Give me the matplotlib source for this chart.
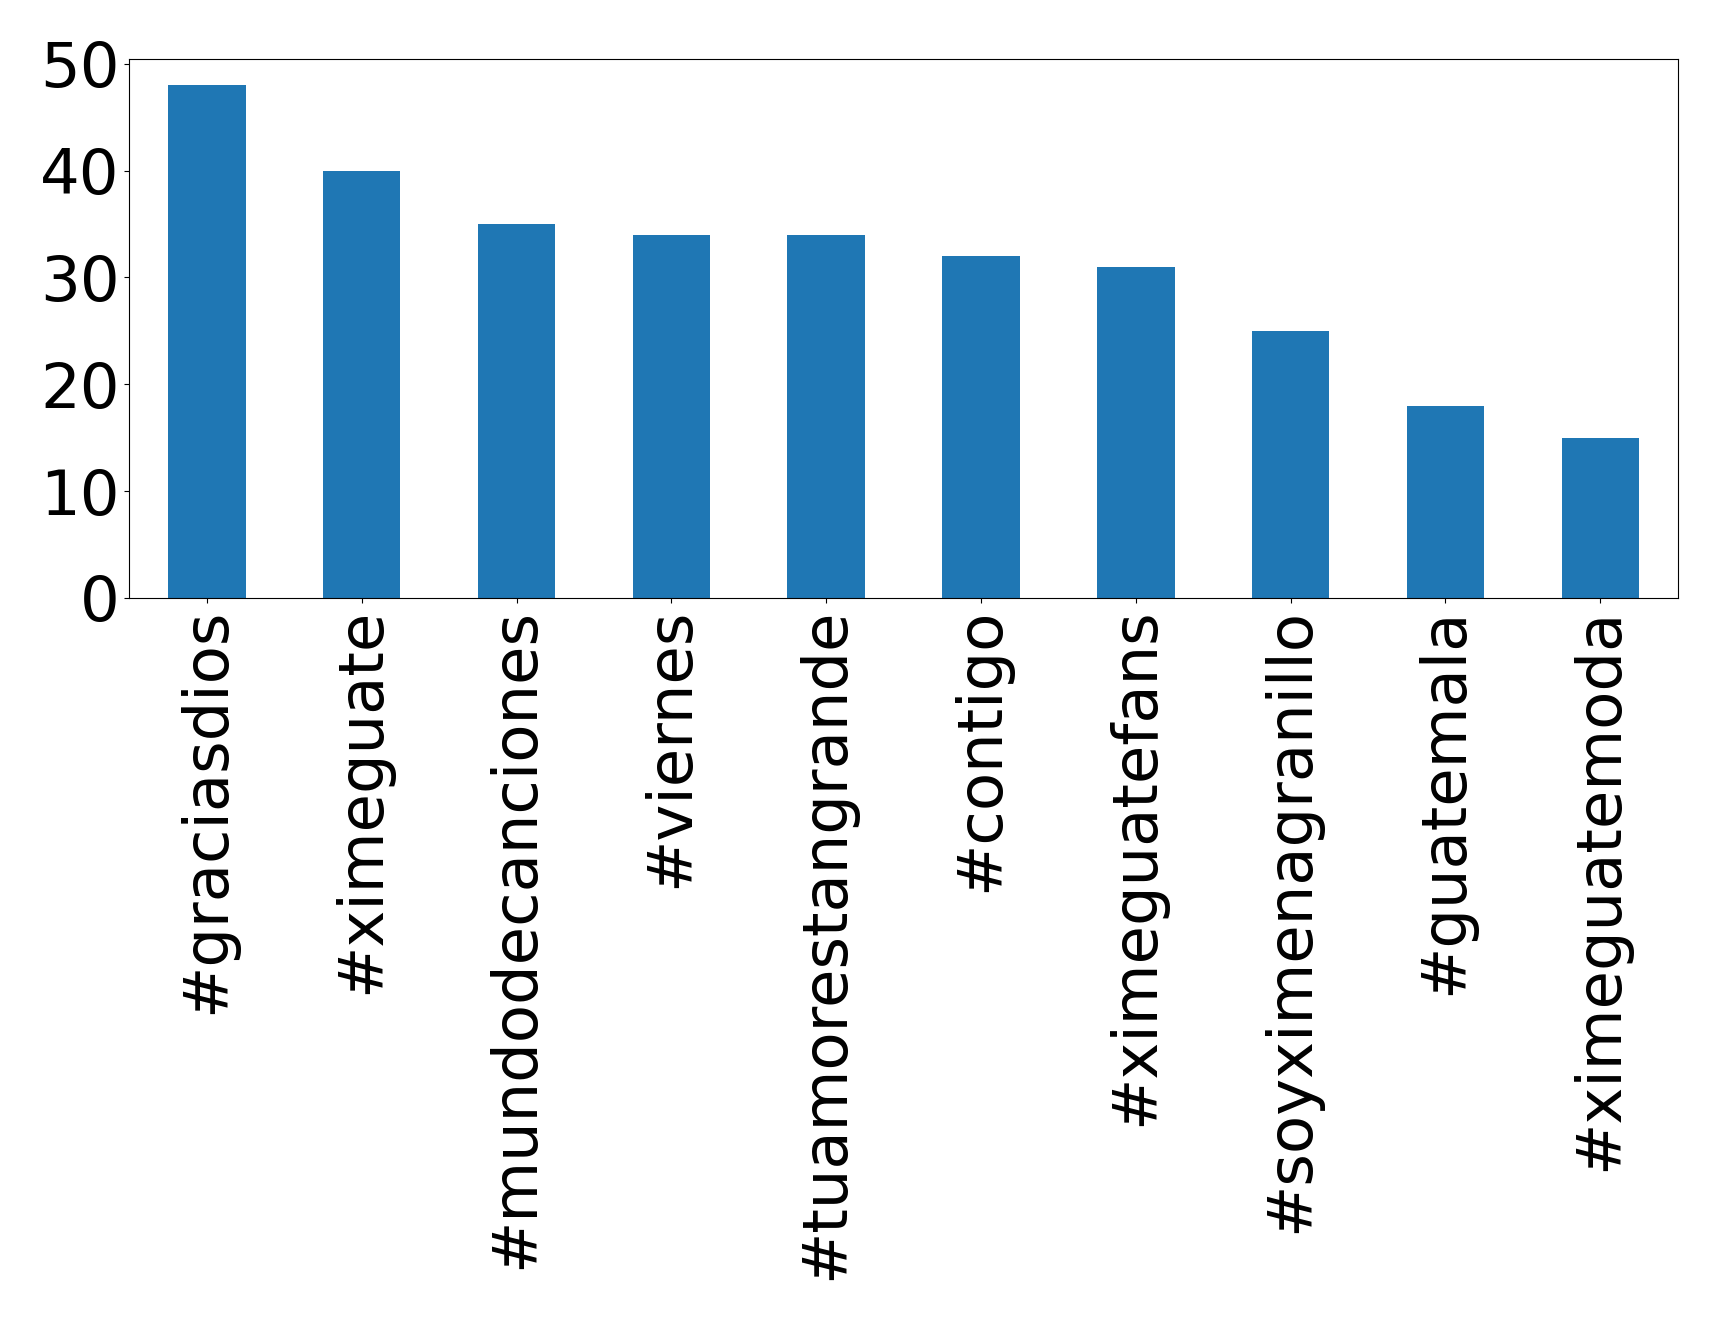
import matplotlib
matplotlib.use("Agg")
import matplotlib.pyplot as plt

hashtags = ["#graciasdios", "#ximeguate", "#mundodecanciones", "#viernes",
            "#tuamorestangrande", "#contigo", "#ximeguatefans",
            "#soyximenagranillo", "#guatemala", "#ximeguatemoda"]
counts = [48, 40, 35, 34, 34, 32, 31, 25, 18, 15]
yticks = [0, 10, 20, 30, 40, 50]

fig = plt.figure(figsize=(17.19, 13.20), dpi=100)
ax = fig.add_axes([0.0753, 0.547, 0.976 - 0.0753, 0.955 - 0.547])
x = list(range(len(hashtags)))
ax.bar(x, counts, width=0.5, color="#1f77b4")
ax.set_xlim(-0.5, len(hashtags) - 0.5)
ax.set_xticks(x)
ax.set_xticklabels(hashtags, rotation=90)
ax.set_yticks(yticks)
ax.tick_params(axis="both", labelsize=45)
fig.savefig("out.png", dpi=100)
